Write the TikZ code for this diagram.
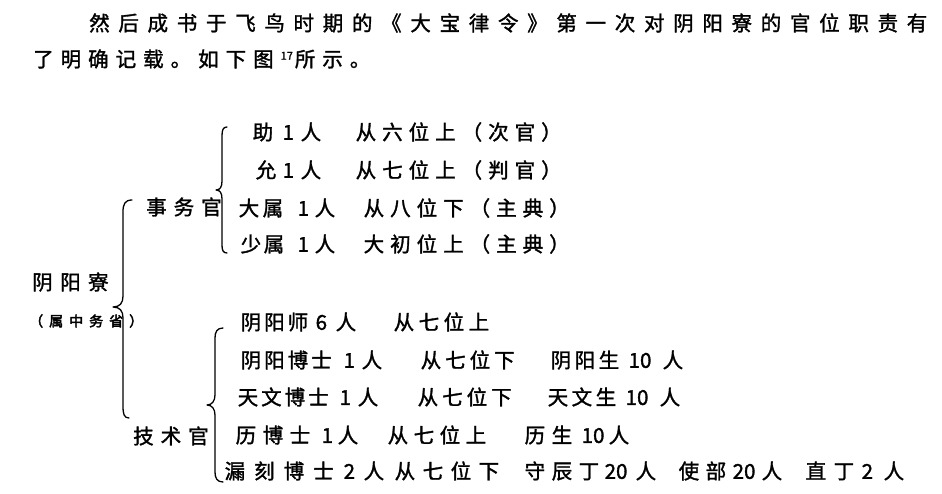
\documentclass[tikz,border=0pt]{standalone}
\usepackage{fontspec}
\setmainfont{Noto Sans CJK SC}[FakeBold=1.5]
\newfontfamily\notefont{Noto Sans CJK SC}[FakeBold=3]
\makeatletter
\newcommand\G[2][27]{\@tfor\gc:=#2\do{\makebox[#1pt][l]{\gc}}}
\makeatother
\newcommand\At[2]{\rlap{\hspace*{#1pt}#2}}
\begin{document}
\begin{tikzpicture}[x=1pt,y=-1pt,
  txt/.style={inner sep=0pt, anchor=west, font=\fontsize{20.5pt}{24pt}\selectfont},
  rowtxt/.style={txt},
  small/.style={inner sep=0pt, anchor=west, font=\notefont\fontsize{14pt}{16pt}\selectfont},
  brace/.style={line width=1.3pt, line cap=round, line join=round}]
\useasboundingbox (0,0) rectangle (942,494);

% heading
\node[txt] (h1) at (89,23) {\G[29.2]{然后成书于飞鸟时期的《大宝律令》第一次对阴阳寮的官位职责有}};
\node[txt] (h2) at (33,59) {\G[27.5]{了明确记载。如下图}\raisebox{7pt}{\fontsize{11pt}{11pt}\selectfont 17}\hspace{2pt}\G[27.5]{所示。}};

% labels
\node[txt] (root) at (32,282) {\G[28]{阴阳寮}};
\node[small] (note) at (29,321) {\G[20]{（属中务省）}};
\node[txt] (sw) at (146,207) {\G[27.5]{事务官}};
\node[txt] (js) at (133,436) {\G[27.5]{技术官}};

% 事务官 rows
\node[rowtxt] (r1) at (252,132) {\At{0}{助}\At{30}{1}\At{48}{人}\At{103}{\G[26.5]{从六位上（次官）}}};
\node[rowtxt] (r2) at (252,170) {\At{3}{允}\At{30}{1}\At{48}{人}\At{103}{\G[26.5]{从七位上（判官）}}};
\node[rowtxt] (r3) at (238,208) {\At{0}{\G[24]{大属}}\At{59}{1}\At{76}{人}\At{125}{\G[26.5]{从八位下（主典）}}};
\node[rowtxt] (r4) at (238,244) {\At{2}{\G[23]{少属}}\At{59}{1}\At{76}{人}\At{125}{\G[26.5]{大初位上（主典）}}};

% 技术官 rows
\node[rowtxt] (r5) at (240,322) {\At{0}{\G[23.5]{阴阳师}}\At{75}{6}\At{95}{人}\At{153}{\G[25]{从七位上}}};
\node[rowtxt] (r6) at (240,360) {\At{0}{\G[23.5]{阴阳博士}}\At{103}{1}\At{121}{人}\At{180}{\G[24.5]{从七位下}}\At{310}{\G[24]{阴阳生}}\At{388}{10}\At{422}{人}};
\node[rowtxt] (r7) at (237,397) {\At{0}{\G[23.5]{天文博士}}\At{102}{1}\At{120}{人}\At{180}{\G[24.5]{从七位下}}\At{310}{\G[24]{天文生}}\At{388}{10}\At{422}{人}};
\node[rowtxt] (r8) at (235,435) {\At{0}{\G[27]{历博士}}\At{86}{1}\At{102}{人}\At{152}{\G[26]{从七位上}}\At{289}{\G[27]{历生}}\At{346}{10}\At{373}{人}};
\node[rowtxt] (r9) at (224,471) {\At{0}{\G[29.5]{漏刻博士}}\At{119}{2}\At{139}{人}\At{170}{\G[28]{从七位下}}\At{300}{\G[27]{守辰丁}}\At{380}{20}\At{411}{人}\At{454}{\G[27]{使部}}\At{508}{20}\At{537}{人}\At{581}{\G[28]{直丁}}\At{637}{2}\At{659}{人}};

% braces
\draw[brace] (132,200) .. controls (125,200) and (123,204) .. (123,212) -- (123,296)
  .. controls (123,303) and (120,307) .. (113,307)
  .. controls (120,307) and (123,311) .. (123,318) -- (123,406)
  .. controls (123,414) and (124,418) .. (129,418);
\draw[brace] (227,127) .. controls (223,127) and (222,130) .. (222,136) -- (222,181)
  .. controls (222,187) and (220,190) .. (216,190)
  .. controls (220,190) and (222,193) .. (222,199) -- (222,245)
  .. controls (222,250) and (223,253) .. (227,253);
\draw[brace] (223,328) .. controls (217,328) and (215,332) .. (215,338) -- (215,395)
  .. controls (215,401) and (212,405) .. (207,405)
  .. controls (212,405) and (215,409) .. (215,415) -- (215,472)
  .. controls (215,478) and (217,482) .. (223,482);
\end{tikzpicture}
\end{document}
